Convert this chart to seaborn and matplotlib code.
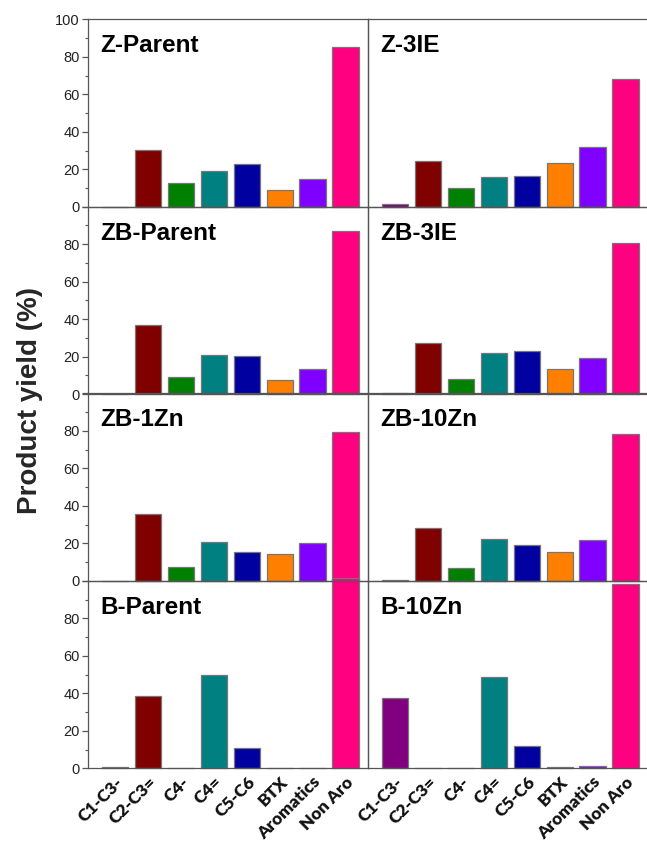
import matplotlib
matplotlib.use("Agg")
import matplotlib.pyplot as plt
import seaborn as sns
import pandas as pd
from matplotlib.ticker import FixedLocator

sns.set_style("white")
plt.rcParams['font.family'] = ['Liberation Sans', 'DejaVu Sans']

categories = ["C1-C3-", "C2-C3=", "C4-", "C4=", "C5-C6", "BTX", "Aromatics", "Non Aro"]
colors = ["#800080", "#800000", "#008000", "#008080", "#0000A0", "#FF8000", "#8000FF", "#FF0080"]

panel_names = ["Z-Parent", "Z-3IE", "ZB-Parent", "ZB-3IE", "ZB-1Zn", "ZB-10Zn", "B-Parent", "B-10Zn"]

z_parent  = [0.0, 30.4, 12.9, 19.1, 23.0, 8.7, 14.6, 85.5]
z_3ie     = [1.4, 24.6, 9.8, 15.7, 16.6, 23.2, 32.1, 68.4]
zb_parent = [0.0, 36.8, 8.9, 20.8, 20.3, 7.7, 13.3, 86.8]
zb_3ie    = [0.7, 27.4, 8.2, 22.1, 23.1, 13.3, 19.0, 80.8]
zb_1zn    = [0.0, 35.4, 7.1, 20.5, 15.4, 14.3, 20.0, 79.5]
zb_10zn   = [0.5, 28.4, 6.6, 22.1, 19.3, 15.5, 21.6, 78.2]
b_parent  = [0.5, 38.4, 0.0, 49.6, 11.0, 0.0, 0.0, 101.5]
b_10zn    = [37.7, 0.0, 0.0, 49.0, 12.1, 0.9, 1.2, 98.6]

series = [z_parent, z_3ie, zb_parent, zb_3ie, zb_1zn, zb_10zn, b_parent, b_10zn]

W, H = 647, 843
fig = plt.figure(figsize=(W / 100, H / 100), dpi=100)

lefts = [88.3, 368.3]
bottoms_px = [206.7, 394.0, 580.7, 768.3]
pw, ph = 280.0, 187.3
spine_col = "#555555"
palette = dict(zip(categories, colors))

for i, (name, vals) in enumerate(zip(panel_names, series)):
    r, c = divmod(i, 2)
    ax = fig.add_axes([lefts[c] / W, 1 - bottoms_px[r] / H, pw / W, ph / H])
    ax.set_facecolor("none")
    df = pd.DataFrame({"cat": categories, "val": vals})
    sns.barplot(data=df, x="cat", y="val", hue="cat", palette=palette, order=categories,
                hue_order=categories, dodge=False, width=0.8, edgecolor="#777777",
                linewidth=0.9, saturation=1, legend=False, ax=ax)
    for p in ax.patches:
        p.set_clip_on(False)
    ax.set_xlim(-0.81, 7.69)
    ax.set_ylim(0, 100)
    ax.set_xlabel("")
    ax.set_ylabel("")
    for s in ax.spines.values():
        s.set_color(spine_col)
        s.set_linewidth(0.9)
        s.set_visible(True)
    ax.yaxis.set_major_locator(FixedLocator([0, 20, 40, 60, 80, 100]))
    ax.yaxis.set_minor_locator(FixedLocator([10, 30, 50, 70, 90]))
    if c == 0:
        ax.tick_params(axis="y", which="major", direction="out", length=4, width=0.9,
                       color=spine_col, labelsize=10.5, pad=2, left=True, labelcolor="#222222")
        ax.tick_params(axis="y", which="minor", direction="out", length=2, width=0.8,
                       color=spine_col, left=True)
        labels = ["0", "20", "40", "60", "80", "100" if r == 0 else ""]
        ax.set_yticklabels(labels)
    else:
        ax.tick_params(axis="y", which="both", left=False, labelleft=False)
    ax.tick_params(axis="x", which="both", bottom=False, length=0)
    if r == 3:
        ax.set_xticks(range(len(categories)))
        ax.set_xticklabels(categories, rotation=45, ha="right", rotation_mode="anchor",
                           fontsize=12.5, fontweight="heavy", family=["Lato", "DejaVu Sans"],
                           color="#111111")
        ax.tick_params(axis="x", pad=4)
    else:
        ax.set_xticklabels([])
    ax.text(12 / pw, 1 - 33 / ph, name, transform=ax.transAxes, fontsize=17.5,
            fontweight="bold", ha="left", va="baseline", color="#000000")

fig.text(30 / W, 1 - 400 / H, "Product yield (%)", rotation=90, fontsize=20,
         fontweight="bold", ha="center", va="center")

fig.savefig("out.png", dpi=100, facecolor="white")
